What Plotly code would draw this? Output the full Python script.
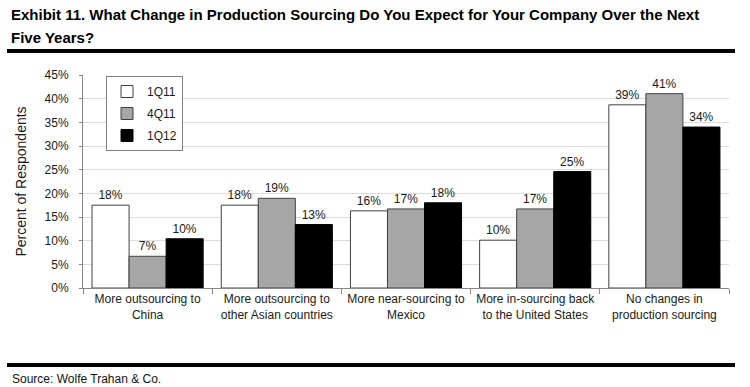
import plotly.graph_objects as go

categories = [
    "More outsourcing to<br>China",
    "More outsourcing to<br>other Asian countries",
    "More near-sourcing to<br>Mexico",
    "More in-sourcing back<br>to the United States",
    "No changes in<br>production sourcing",
]
series_names = ["1Q11", "4Q11", "1Q12"]
values_1q11 = [17.5, 17.5, 16.3, 10.1, 38.7]
values_4q11 = [6.7, 18.95, 16.7, 16.7, 41.05]
values_1q12 = [10.4, 13.4, 18.0, 24.6, 34.0]
y_ticks = [0, 5, 10, 15, 20, 25, 30, 35, 40, 45]
y_tick_labels = [f"{v}%" for v in y_ticks]
title_lines = [
    "Exhibit 11. What Change in Production Sourcing Do You Expect for Your Company Over the Next",
    "Five Years?",
]

W, H = 750, 387
L, R, T, B = 83, 21, 75, 99
PW, PH = W - L - R, H - T - B


def px(x):
    return (x - L) / PW


def py(y):
    return (H - B - y) / PH


fills = ["#ffffff", "#a6a6a6", "#000000"]
outlines = ["#404040", "#404040", "#000000"]
all_values = [values_1q11, values_4q11, values_1q12]

fig = go.Figure()
for name, vals, fc, lc in zip(series_names, all_values, fills, outlines):
    fig.add_trace(go.Bar(
        name=name, x=categories, y=vals,
        marker=dict(color=fc, line=dict(color=lc, width=1)),
        texttemplate="%{y:.0f}%", textposition="outside",
        textfont=dict(family="Liberation Sans", size=12, color="#1a1a1a"),
        cliponaxis=False, legendgroup=name,
    ))

fig.update_layout(
    width=W, height=H,
    margin=dict(l=L, r=R, t=T, b=B, pad=0),
    paper_bgcolor="white", plot_bgcolor="white",
    barmode="group", bargap=0.14, bargroupgap=0,
    font=dict(family="Liberation Sans", size=12, color="#1a1a1a"),
    legend=dict(
        x=px(106), y=py(76), xanchor="left", yanchor="top",
        bordercolor="#808080", borderwidth=1, bgcolor="white",
        font=dict(family="Liberation Sans", size=12, color="#1a1a1a"),
        tracegroupgap=3, itemwidth=30,
    ),
    xaxis=dict(
        showline=True, linecolor="#888888", linewidth=1,
        ticks="outside", ticklen=5, tickcolor="#888888", tickson="boundaries",
        tickfont=dict(family="Liberation Sans", size=12, color="#1a1a1a"),
        showgrid=False,
    ),
    yaxis=dict(
        range=[0, 45], tickvals=y_ticks, ticktext=y_tick_labels,
        showline=True, linecolor="#888888", linewidth=1,
        ticks="outside", ticklen=3, tickcolor="#888888",
        ticklabelstandoff=8,
        showgrid=True, gridcolor="#dcdcdc", gridwidth=1,
        zeroline=False,
        tickfont=dict(family="Liberation Sans", size=12, color="#1a1a1a"),
        title=dict(text="Percent of Respondents", standoff=14,
                   font=dict(family="Liberation Sans", size=14, color="#1a1a1a")),
    ),
    showlegend=True,
)

for line, yc in zip(title_lines, (15, 38)):
    fig.add_annotation(
        text=f"<b>{line}</b>",
        xref="paper", yref="paper", x=px(9), y=py(yc), xanchor="left", yanchor="middle",
        align="left", showarrow=False,
        font=dict(family="Liberation Sans", size=15, color="#000000"),
    )
fig.add_annotation(
    text="Source: Wolfe Trahan & Co.",
    xref="paper", yref="paper", x=px(10), y=py(379), xanchor="left", yanchor="middle",
    showarrow=False,
    font=dict(family="Liberation Sans", size=12, color="#111111"),
)
for yy in (51, 365):
    fig.add_shape(type="line", xref="paper", yref="paper",
                  x0=px(7), x1=px(735), y0=py(yy), y1=py(yy),
                  line=dict(color="black", width=4))

fig.write_html("out.html", config={"displayModeBar": False},
               post_script="document.body.style.margin='0';")
